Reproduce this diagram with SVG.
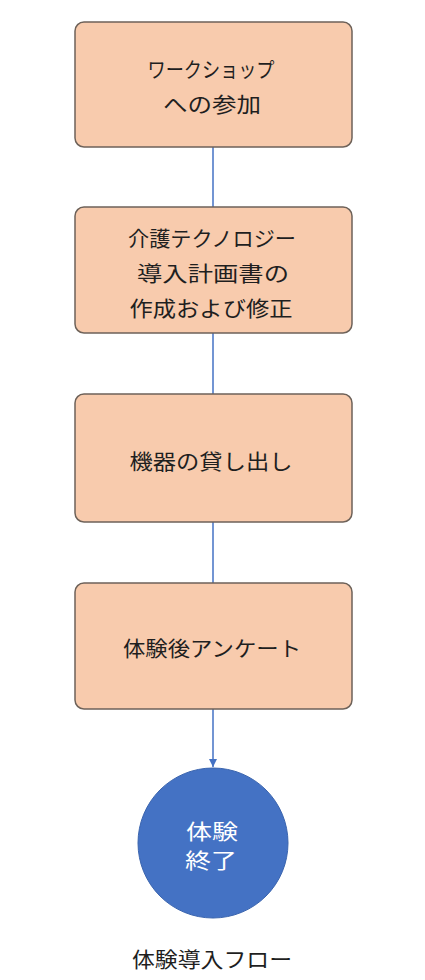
<svg xmlns="http://www.w3.org/2000/svg" width="425" height="980" viewBox="0 0 425 980">
<style>
.box{fill:#F8CBAD;stroke:#6E6259;stroke-width:1.5}
.t{font-family:"Noto Sans CJK JP","Noto Sans CJK SC",sans-serif;font-size:21px;font-weight:400;fill:#1F1F1F;text-anchor:middle;dominant-baseline:central}
.w{fill:#FFFFFF}
.c{stroke:#4472C4;stroke-width:1.5;fill:none}
</style>
<defs>
<marker id="ah" markerWidth="10" markerHeight="10" refX="8" refY="5" orient="auto" markerUnits="userSpaceOnUse">
<path d="M0,1 L8,5 L0,9 z" fill="#4472C4"/>
</marker>
</defs>
<rect width="425" height="980" fill="#FFFFFF"/>
<g id="connectors">
<line class="c" x1="213" y1="147" x2="213" y2="207"/>
<line class="c" x1="213" y1="333" x2="213" y2="394"/>
<line class="c" x1="213" y1="522" x2="213" y2="583"/>
<line class="c" x1="213" y1="709" x2="213" y2="767" marker-end="url(#ah)"/>
</g>
<g id="n1">
<rect class="box" x="75" y="22" width="277" height="125" rx="9"/>
<text class="t" x="211" y="68" textLength="127" lengthAdjust="spacingAndGlyphs">ワークショップ</text>
<text class="t" x="212" y="103" textLength="98" lengthAdjust="spacingAndGlyphs">への参加</text>
</g>
<g id="n2">
<rect class="box" x="75" y="207" width="277" height="126" rx="9"/>
<text class="t" x="212" y="237" textLength="168" lengthAdjust="spacingAndGlyphs">介護テクノロジー</text>
<text class="t" x="213" y="272" textLength="152" lengthAdjust="spacingAndGlyphs">導入計画書の</text>
<text class="t" x="211" y="307" textLength="163" lengthAdjust="spacingAndGlyphs">作成および修正</text>
</g>
<g id="n3">
<rect class="box" x="75" y="394" width="277" height="128" rx="9"/>
<text class="t" x="211" y="460" textLength="163" lengthAdjust="spacingAndGlyphs">機器の貸し出し</text>
</g>
<g id="n4">
<rect class="box" x="75" y="583" width="277" height="126" rx="9"/>
<text class="t" x="212" y="647" textLength="178" lengthAdjust="spacingAndGlyphs">体験後アンケート</text>
</g>
<g id="n5">
<circle cx="213" cy="843" r="75" fill="#4472C4" stroke="#3A64AE" stroke-width="1"/>
<text class="t w" x="212" y="830" textLength="52" lengthAdjust="spacingAndGlyphs">体験</text>
<text class="t w" x="211" y="859" textLength="52" lengthAdjust="spacingAndGlyphs">終了</text>
</g>
<g id="caption">
<text class="t" x="212" y="958" textLength="160" lengthAdjust="spacingAndGlyphs">体験導入フロー</text>
</g>
</svg>
